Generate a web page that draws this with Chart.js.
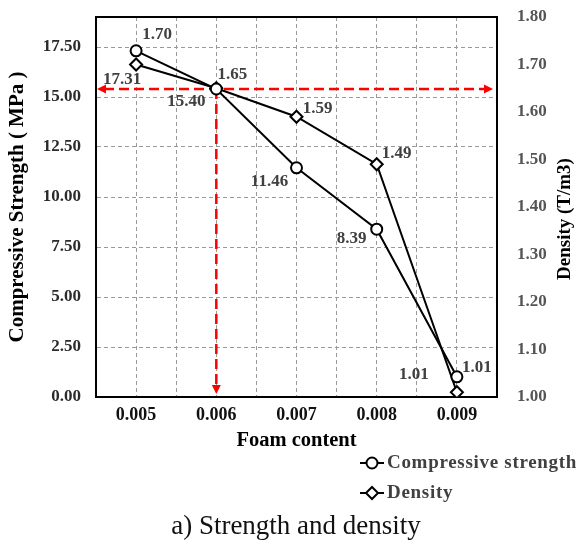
<!DOCTYPE html>
<html>
<head>
<meta charset="utf-8">
<script src="https://cdn.jsdelivr.net/npm/chart.js@4.4.1/dist/chart.umd.min.js"></script>
<style>
  html, body { margin: 0; padding: 0; background: #fff; }
  #wrap { width: 579px; height: 542px; position: relative; }
</style>
</head>
<body>
<div id="wrap"><canvas id="chart"></canvas></div>
<script>
// data
const foamContent = [0.005, 0.006, 0.007, 0.008, 0.009];
const strength = [17.31, 15.40, 11.46, 8.39, 1.01];
const density = [1.70, 1.65, 1.59, 1.49, 1.01];
const strengthTicks = [0, 2.5, 5, 7.5, 10, 12.5, 15, 17.5];
const densityTicks = [1.0, 1.1, 1.2, 1.3, 1.4, 1.5, 1.6, 1.7, 1.8];

const SERIF = '"Liberation Serif", "Times New Roman", serif';
Chart.defaults.font.family = SERIF;
Chart.defaults.font.weight = 'bold';

// where each value label sits relative to its marker
const labelOffsets = {
    0: [[-14, 29], [-30, 13], [-27, 14], [-25, 9], [-43, -2]],
    1: [[21, -30], [16, -14], [21, -8], [20, -11], [20, -25]]
};

function arrowHead(ctx, x, y, dir) {
    // dir: 'left' | 'right' | 'down'
    const l = 9, w = 4.5;
    ctx.beginPath();
    if (dir === 'left') { ctx.moveTo(x, y); ctx.lineTo(x + l, y - w); ctx.lineTo(x + l, y + w); }
    if (dir === 'right') { ctx.moveTo(x, y); ctx.lineTo(x - l, y - w); ctx.lineTo(x - l, y + w); }
    if (dir === 'down') { ctx.moveTo(x, y); ctx.lineTo(x - w, y - l); ctx.lineTo(x + w, y - l); }
    ctx.closePath();
    ctx.fill();
}

// keep the plot box where it is in the figure
function fixVertical(width) {
    return (s) => { s.width = width; s.paddingTop = 0; s.paddingBottom = 0; };
}

const extras = {
    id: 'extras',
    beforeDatasetsDraw(chart) {
        const { ctx, chartArea: a, scales } = chart;
        // red guide lines at foam 0.006
        const px = scales.x.getPixelForValue(foamContent[1]);
        const py = scales.y.getPixelForValue(strength[1]);
        ctx.save();
        ctx.strokeStyle = '#ff0000';
        ctx.fillStyle = '#ff0000';
        ctx.lineWidth = 2.5;
        ctx.setLineDash([10, 5]);
        ctx.beginPath();
        ctx.moveTo(a.left + 8, py);
        ctx.lineTo(a.right - 12, py);
        ctx.moveTo(px, py);
        ctx.lineTo(px, a.bottom - 10);
        ctx.stroke();
        ctx.setLineDash([]);
        arrowHead(ctx, a.left + 1, py, 'left');
        arrowHead(ctx, a.right - 4, py, 'right');
        arrowHead(ctx, px, a.bottom - 3, 'down');
        // frame
        ctx.strokeStyle = '#000';
        ctx.lineWidth = 2;
        ctx.strokeRect(a.left, a.top, a.right - a.left, a.bottom - a.top);
        ctx.restore();
    },
    afterDatasetsDraw(chart) {
        const { ctx } = chart;
        ctx.save();
        ctx.font = 'bold 17px ' + SERIF;
        ctx.fillStyle = '#404040';
        ctx.textAlign = 'center';
        ctx.textBaseline = 'middle';
        chart.data.datasets.forEach((ds, i) => {
            chart.getDatasetMeta(i).data.forEach((pt, j) => {
                const off = labelOffsets[i][j];
                ctx.fillText(ds.data[j].y.toFixed(2), pt.x + off[0], pt.y + off[1]);
            });
        });
        ctx.restore();
    },
    afterDraw(chart) {
        const { ctx } = chart;
        ctx.save();
        // right axis title, reads bottom to top
        ctx.translate(565, 219);
        ctx.rotate(-Math.PI / 2);
        ctx.font = 'bold 19px ' + SERIF;
        ctx.fillStyle = '#000';
        ctx.textAlign = 'center';
        ctx.textBaseline = 'middle';
        ctx.fillText('Density (T/m3)', 0, 0);
        ctx.restore();

        // legend, stacked
        ctx.save();
        const rows = [463, 493];
        chart.data.datasets.forEach((ds, i) => {
            const y = rows[i];
            ctx.strokeStyle = '#000';
            ctx.lineWidth = 2;
            ctx.beginPath();
            ctx.moveTo(360, y);
            ctx.lineTo(384, y);
            ctx.stroke();
            ctx.fillStyle = '#fff';
            Chart.helpers.drawPoint(ctx, {
                pointStyle: ds.pointStyle, radius: ds.pointRadius, borderWidth: 2, rotation: 0
            }, 372, y);
            ctx.fillStyle = '#404040';
            ctx.font = 'bold 19px ' + SERIF;
            ctx.letterSpacing = '0.7px';
            ctx.textAlign = 'left';
            ctx.textBaseline = 'middle';
            ctx.fillText(ds.label, 387, y);
        });
        ctx.letterSpacing = '0px';
        // caption
        ctx.fillStyle = '#111';
        ctx.font = 'normal 27px ' + SERIF;
        ctx.textAlign = 'center';
        ctx.textBaseline = 'alphabetic';
        ctx.fillText('a) Strength and density', 296, 534);
        ctx.restore();
    }
};

new Chart(document.getElementById('chart'), {
    type: 'line',
    data: {
        datasets: [
            {
                label: 'Compressive strength',
                data: foamContent.map((x, i) => ({ x: x, y: strength[i] })),
                yAxisID: 'y',
                borderColor: '#000',
                borderWidth: 2,
                pointStyle: 'circle',
                pointRadius: 5.5,
                pointBorderWidth: 2,
                pointBackgroundColor: '#fff',
                pointBorderColor: '#000',
                tension: 0
            },
            {
                label: 'Density',
                data: foamContent.map((x, i) => ({ x: x, y: density[i] })),
                yAxisID: 'y1',
                borderColor: '#000',
                borderWidth: 2,
                pointStyle: 'rectRot',
                pointRadius: 6,
                pointBorderWidth: 2,
                pointBackgroundColor: '#fff',
                pointBorderColor: '#000',
                tension: 0
            }
        ]
    },
    options: {
        responsive: true,
        maintainAspectRatio: false,
        animation: false,
        layout: { padding: { top: 17, bottom: 85, left: 0, right: 0 } },
        plugins: {
            legend: { display: false },
            tooltip: { enabled: false }
        },
        scales: {
            x: {
                type: 'linear',
                min: 0.0045,
                max: 0.0095,
                afterFit: (s) => { s.height = 60; },
                ticks: {
                    stepSize: 0.0005,
                    padding: 8,
                    color: '#111',
                    font: { size: 18, weight: 'bold' },
                    maxRotation: 0,
                    autoSkip: false,
                    callback: (v) => foamContent.some(f => Math.abs(f - v) < 1e-7) ? Number(v).toFixed(3) : ''
                },
                grid: { color: '#9a9a9a', lineWidth: 1, drawTicks: false },
                border: { display: true, color: '#000', width: 2, dash: [4, 3] },
                title: {
                    display: true,
                    text: 'Foam content',
                    color: '#000',
                    font: { size: 20.5, weight: 'bold' },
                    padding: { top: 0, bottom: 4 }
                }
            },
            y: {
                position: 'left',
                min: 0,
                max: 19,
                afterFit: fixVertical(96),
                afterBuildTicks: (s) => { s.ticks = strengthTicks.map(v => ({ value: v })); },
                ticks: {
                    padding: 15,
                    color: '#2b2b2b',
                    font: { size: 17, weight: 'bold' },
                    callback: (v) => Number(v).toFixed(2)
                },
                grid: { color: '#9a9a9a', lineWidth: 1, drawTicks: false },
                border: { display: true, color: '#000', width: 2, dash: [4, 3] },
                title: {
                    display: true,
                    text: 'Compressive Strength ( MPa )',
                    color: '#000',
                    font: { size: 21, weight: 'bold' },
                    padding: { top: 5, bottom: 0 }
                }
            },
            y1: {
                position: 'right',
                min: 1.0,
                max: 1.8,
                afterFit: fixVertical(82),
                afterBuildTicks: (s) => { s.ticks = densityTicks.map(v => ({ value: v })); },
                ticks: {
                    padding: 20,
                    color: '#555',
                    font: { size: 17, weight: 'bold' },
                    callback: (v) => Number(v).toFixed(2)
                },
                grid: { drawOnChartArea: false, drawTicks: false },
                border: { display: true, color: '#000', width: 2 }
            }
        }
    },
    plugins: [extras]
});
</script>
</body>
</html>
